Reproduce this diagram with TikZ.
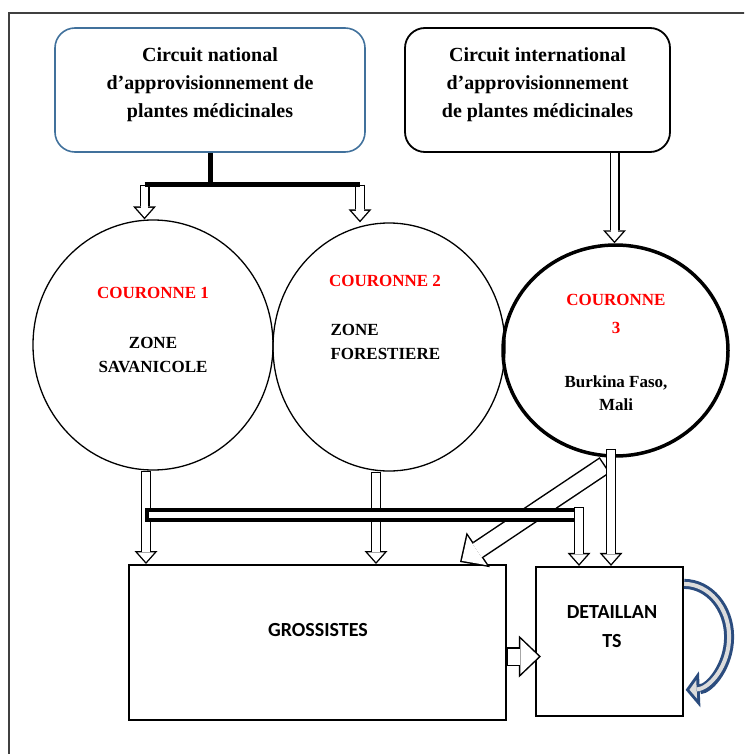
\documentclass[tikz,border=0pt]{standalone}
\usepackage{fontspec}
\setmainfont{Liberation Serif}
\newfontfamily\calib{Carlito}
\usetikzlibrary{shapes.geometric, arrows.meta, calc, positioning}
\definecolor{bordbleu}{HTML}{41719C}
\definecolor{bleufonce}{HTML}{2B4C7E}
\definecolor{grisclair}{HTML}{DCDCDC}
\definecolor{gristrait}{HTML}{404040}

\tikzset{
 cadre/.style={draw, rounded corners=20pt, line width=1.6pt, minimum height=124pt},
 zone/.style={ellipse, draw, line width=1.3pt, inner sep=0pt},
 bloc/.style={draw, line width=2pt, inner sep=0pt},
 titre/.style={align=center, font=\bfseries\fontsize{20}{28}\selectfont},
 rouge/.style={text=red, align=center, font=\bfseries\fontsize{17}{28}\selectfont},
 zonetxt/.style={align=center, font=\bfseries\fontsize{17}{24}\selectfont},
 etiq/.style={align=center, font=\calib\bfseries\fontsize{20}{29}\selectfont},
 tronc/.style={line width=5pt},
 barre/.style={line width=4pt, fill=white},
 fleche/.style={line width=10pt, -{Triangle[length=13pt, width=23pt, line width=0pt]},
   postaction={draw, white, line width=7.2pt, shorten <=1.4pt, shorten >=2.1pt,
   -{Triangle[length=9.5pt, width=16.8pt, line width=0pt]}}},
 grossefleche/.style={line width=19pt, -{Triangle[length=22pt, width=42pt, line width=0pt]},
   postaction={draw, white, line width=16pt, shorten <=1.5pt, shorten >=2.2pt,
   -{Triangle[length=18.3pt, width=35pt, line width=0pt]}}},
 boucle/.style={bleufonce, line width=10pt, -{Triangle[length=14pt, width=36pt, line width=0pt]},
   postaction={draw, grisclair, line width=4pt, shorten >=3.8pt,
   -{Triangle[length=7.2pt, width=18.4pt, line width=0pt]}}},
}

\begin{document}
\begin{tikzpicture}[x=1pt, y=-1pt]
 \useasboundingbox (0,0) rectangle (744,754);
 \clip (0,0) rectangle (744,754);
 \draw[gristrait, line width=1.3pt] (9,770) -- (9,13) -- (760,13);

 % sources
 \node[cadre, draw=bordbleu, minimum width=310pt] (nat) at (210,90) {};
 \node[titre] (natT) at ([yshift=5pt]nat.center) {Circuit national\\d’approvisionnement de\\plantes médicinales};
 \node[cadre, line width=1.8pt, minimum width=265pt] (intl) at (537.5,90) {};
 \node[titre] (intlT) at ([yshift=5pt]intl.center) {Circuit international\\d’approvisionnement\\de plantes médicinales};

 % couronnes
 \node[zone, minimum width=240pt, minimum height=250pt] (c1) at (153,345) {};
 \node[zone, minimum width=232pt, minimum height=248pt] (c2) at (389,347) {};
 \node[zone, line width=3.5pt, minimum width=225pt, minimum height=211pt] (c3) at (615.5,350.5) {};
 \node[rouge] (c1a) at (153,293) {COURONNE 1};
 \node[zonetxt] (c1b) at (153,355) {ZONE\\SAVANICOLE};
 \node[rouge] (c2a) at (385,281) {COURONNE 2};
 \node[zonetxt, align=left, anchor=west] (c2b) at (327,342) {ZONE\\FORESTIERE};
 \node[rouge] (c3a) at (616,314) {COURONNE\\3};
 \node[zonetxt, font=\bfseries\fontsize{17}{23}\selectfont] (c3b) at (616,393.5) {Burkina Faso,\\Mali};

 % commerce
 \node[bloc, minimum width=377pt, minimum height=155pt] (gros) at (317,642.5) {};
 \node[etiq] (grosT) at (318,630) {GROSSISTES};
 \node[bloc, line width=2.2pt, minimum width=147pt, minimum height=149pt] (det) at (609.5,641.5) {};
 \node[etiq] (detT) at (612,626.5) {DETAILLAN\\TS};

 % circuit national
 \coordinate (embr) at (210,184.5);
 \coordinate (embrG) at (144.5,184.5);
 \coordinate (embrD) at (360,184.5);
 \draw[fleche] (embrG) -- (embrG |- c1.north);
 \draw[fleche] (embrD) -- (embrD |- c2.north);
 \draw[tronc] (nat.south) -- (embr);
 \draw[tronc] (embrG) -- (embrD);

 % circuit international
 \coordinate (intlB) at (614.5,152);
 \draw[fleche] (intlB) -- (intlB |- c3.north);

 % vers grossistes et detaillants
 \coordinate (diagD) at (605,465);
 \coordinate (diagF) at (460,562);
 \draw[grossefleche] (diagD) -- (diagF);
 \draw[fleche] ([xshift=-7pt]c1.south) -- ([xshift=-7pt]c1.south |- gros.north);
 \draw[fleche] ([xshift=-13pt]c2.south) -- ([xshift=-13pt]c2.south |- gros.north);
 \coordinate (barG) at (147,515);
 \coordinate (barD) at (579,515);
 \draw[barre] ($(barG)+(0,-5)$) rectangle ($(barD)+(0,5)$);
 \draw[fleche] ($(barD)+(0,-8)$) -- (barD |- det.north);
 \draw[fleche] ([xshift=-4.5pt, yshift=9pt]c3.south) -- ([xshift=-4.5pt]c3.south |- det.north);
 \draw[grossefleche] ($(gros.east)+(0,14)$) -- ($(gros.east -| det.west)+(6,14)$);

 % boucle des detaillants
 \draw[boucle] ([yshift=-18pt]det.north east) arc[start angle=90, end angle=-88, x radius=45pt, y radius=53pt];
\end{tikzpicture}
\end{document}
